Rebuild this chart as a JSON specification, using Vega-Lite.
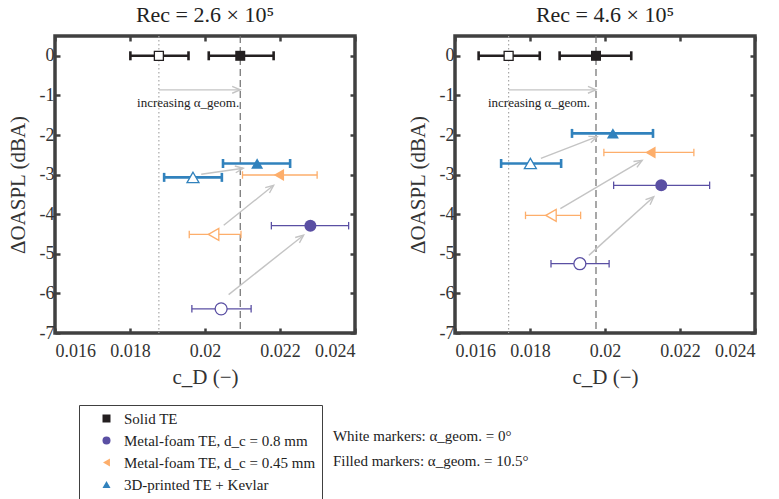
{
"$schema": "https://vega.github.io/schema/vega-lite/v6.json",
"background": "white",
"padding": {"left": 5, "top": 2, "right": 5, "bottom": 2},
"config": {
  "font": "Liberation Serif",
  "view": {"stroke": "#404040", "strokeWidth": 3.5},
  "axis": {"labelFont": "Liberation Serif", "titleFont": "Liberation Serif", "labelFontSize": 18, "titleFontSize": 21, "titleFontWeight": "normal", "labelColor": "#333333", "titleColor": "#333333", "tickColor": "#404040", "tickWidth": 2.5, "tickSize": -5, "domain": false, "grid": false},
  "title": {"font": "Liberation Serif", "fontSize": 22, "fontWeight": "normal", "color": "#222222", "offset": 8},
  "legend": {"labelFont": "Liberation Serif", "labelFontSize": 15, "labelColor": "#222222", "labelLimit": 400}
},
"datasets": {
  "pts": [
    {"panel": "L", "k": "S", "series": "Solid TE", "alpha": 0, "cd": 0.01877, "lo": 0.01801, "hi": 0.01956, "db": 0},
    {"panel": "L", "k": "S", "series": "Solid TE", "alpha": 10.5, "cd": 0.02094, "lo": 0.0201, "hi": 0.02183, "db": 0},
    {"panel": "L", "k": "K", "series": "3D-printed TE + Kevlar", "alpha": 10.5, "cd": 0.02139, "lo": 0.02048, "hi": 0.02227, "db": -2.72},
    {"panel": "L", "k": "K", "series": "3D-printed TE + Kevlar", "alpha": 0, "cd": 0.01968, "lo": 0.01891, "hi": 0.02045, "db": -3.07},
    {"panel": "L", "k": "M45", "series": "Metal-foam TE, d_c = 0.45 mm", "alpha": 10.5, "cd": 0.02197, "lo": 0.021, "hi": 0.02299, "db": -3.01},
    {"panel": "L", "k": "M45", "series": "Metal-foam TE, d_c = 0.45 mm", "alpha": 0, "cd": 0.02023, "lo": 0.01958, "hi": 0.02096, "db": -4.51},
    {"panel": "L", "k": "M8", "series": "Metal-foam TE, d_c = 0.8 mm", "alpha": 10.5, "cd": 0.02281, "lo": 0.02177, "hi": 0.02383, "db": -4.29},
    {"panel": "L", "k": "M8", "series": "Metal-foam TE, d_c = 0.8 mm", "alpha": 0, "cd": 0.02043, "lo": 0.01965, "hi": 0.02123, "db": -6.39},
    {"panel": "R", "k": "S", "series": "Solid TE", "alpha": 0, "cd": 0.01743, "lo": 0.01663, "hi": 0.01826, "db": 0},
    {"panel": "R", "k": "S", "series": "Solid TE", "alpha": 10.5, "cd": 0.01976, "lo": 0.01879, "hi": 0.0207, "db": 0},
    {"panel": "R", "k": "K", "series": "3D-printed TE + Kevlar", "alpha": 10.5, "cd": 0.02021, "lo": 0.01912, "hi": 0.02128, "db": -1.96},
    {"panel": "R", "k": "K", "series": "3D-printed TE + Kevlar", "alpha": 0, "cd": 0.01801, "lo": 0.01723, "hi": 0.01883, "db": -2.72},
    {"panel": "R", "k": "M45", "series": "Metal-foam TE, d_c = 0.45 mm", "alpha": 10.5, "cd": 0.02121, "lo": 0.01997, "hi": 0.02237, "db": -2.44},
    {"panel": "R", "k": "M45", "series": "Metal-foam TE, d_c = 0.45 mm", "alpha": 0, "cd": 0.01856, "lo": 0.01788, "hi": 0.01935, "db": -4.03},
    {"panel": "R", "k": "M8", "series": "Metal-foam TE, d_c = 0.8 mm", "alpha": 10.5, "cd": 0.0215, "lo": 0.02023, "hi": 0.02279, "db": -3.27},
    {"panel": "R", "k": "M8", "series": "Metal-foam TE, d_c = 0.8 mm", "alpha": 0, "cd": 0.01933, "lo": 0.01856, "hi": 0.02011, "db": -5.25}
  ],
  "arrows": [
    {"panel": "L", "ax": 0.01877, "ay": -0.86, "bx": 0.02094, "by": -0.86},
    {"panel": "L", "ax": 0.0199, "ay": -2.99, "bx": 0.02102, "by": -2.84},
    {"panel": "L", "ax": 0.0205, "ay": -4.28, "bx": 0.02183, "by": -3.27},
    {"panel": "L", "ax": 0.02063, "ay": -6.03, "bx": 0.02263, "by": -4.53},
    {"panel": "R", "ax": 0.01743, "ay": -0.86, "bx": 0.01976, "by": -0.86},
    {"panel": "R", "ax": 0.01829, "ay": -2.59, "bx": 0.01979, "by": -2.04},
    {"panel": "R", "ax": 0.01881, "ay": -3.86, "bx": 0.02099, "by": -2.64},
    {"panel": "R", "ax": 0.01957, "ay": -5.04, "bx": 0.0213, "by": -3.56}
  ]
},
"bounds": "flush",
"spacing": 100,
"resolve": {"legend": {"color": "independent", "shape": "independent"}},
"hconcat": [
  {
    "width": 300, "height": 297,
    "title": "Rec = 2.6 × 10⁵",
    "resolve": {"axis": {"x": "independent", "y": "independent"}},
    "layer": [
      {
        "data": {"name": "pts"},
        "transform": [{"filter": "datum.panel=='L' && datum.k=='S' && datum.alpha==0"}],
        "mark": {"type": "rule", "strokeDash": [1.5, 2.5], "color": "#a8a8a8", "strokeWidth": 1.2},
        "encoding": {
          "x": {"field": "cd", "type": "quantitative", "scale": {"domain": [0.016, 0.024], "nice": false, "zero": false}, "axis": null}
        }
      },
      {
        "data": {"name": "pts"},
        "transform": [{"filter": "datum.panel=='L' && datum.k=='S' && datum.alpha>0"}],
        "mark": {"type": "rule", "strokeDash": [7, 4], "color": "#6e6e6e", "strokeWidth": 1.2},
        "encoding": {
          "x": {"field": "cd", "type": "quantitative", "axis": null}
        }
      },
      {
        "data": {"name": "arrows"},
        "transform": [{"filter": "datum.panel=='L'"}],
        "mark": {"type": "rule", "color": "#c4c4c4", "strokeWidth": 1.4},
        "encoding": {
          "x": {"field": "ax", "type": "quantitative", "axis": null},
          "x2": {"field": "bx"},
          "y": {"field": "ay", "type": "quantitative", "scale": {"domain": [-7, 0.5], "nice": false, "zero": false}, "axis": null},
          "y2": {"field": "by"}
        }
      },
      {
        "data": {"name": "arrows"},
        "transform": [{"filter": "datum.panel=='L'"}, {"calculate": "atan2(-(datum.by-datum.ay)*39.6, (datum.bx-datum.ax)*37500)*180/PI", "as": "ang"}],
        "mark": {"type": "point", "shape": "M -1 -0.42 L 0 0 L -1 0.42", "filled": false, "color": "#c4c4c4", "strokeWidth": 1.4, "size": 260, "opacity": 1},
        "encoding": {
          "x": {"field": "bx", "type": "quantitative", "axis": null},
          "y": {"field": "by", "type": "quantitative", "axis": null},
          "angle": {"field": "ang", "type": "quantitative", "scale": null}
        }
      },
      {
        "data": {"name": "pts"},
        "transform": [{"filter": "datum.panel=='L'"}],
        "mark": {"type": "rule"},
        "encoding": {
          "x": {"field": "lo", "type": "quantitative", "axis": {"title": "c_D (−)", "values": [0.016, 0.018, 0.02, 0.022, 0.024], "format": "~f", "labelPadding": 14, "titlePadding": 6}},
          "x2": {"field": "hi"},
          "y": {"field": "db", "type": "quantitative", "axis": {"title": "ΔOASPL (dBA)", "values": [-7, -6, -5, -4, -3, -2, -1, 0], "labelExpr": "datum.value < 0 ? '-' + abs(datum.value) : '' + datum.value", "labelPadding": 6, "titlePadding": 11}},
          "color": {"condition": [{"test": "datum.k=='S'", "value": "#231f20"}, {"test": "datum.k=='M8'", "value": "#5a4fa3"}, {"test": "datum.k=='M45'", "value": "#fdae6b"}], "value": "#3182bd"},
          "strokeWidth": {"condition": {"test": "datum.k=='S' || datum.k=='K'", "value": 2.6}, "value": 1.3}
        }
      },
      {
        "data": {"name": "pts"},
        "transform": [{"filter": "datum.panel=='L'"}],
        "mark": {"type": "point", "shape": "M 0 -1 L 0 1", "filled": false, "opacity": 1, "strokeCap": "butt"},
        "encoding": {
          "x": {"field": "lo", "type": "quantitative", "axis": {"orient": "top", "title": null, "labels": false, "values": [0.016, 0.018, 0.02, 0.022, 0.024]}},
          "y": {"field": "db", "type": "quantitative", "axis": {"orient": "right", "title": null, "labels": false, "values": [-7, -6, -5, -4, -3, -2, -1, 0]}},
          "color": {"condition": [{"test": "datum.k=='S'", "value": "#231f20"}, {"test": "datum.k=='M8'", "value": "#5a4fa3"}, {"test": "datum.k=='M45'", "value": "#fdae6b"}], "value": "#3182bd"},
          "strokeWidth": {"condition": {"test": "datum.k=='S' || datum.k=='K'", "value": 2.6}, "value": 1.3},
          "size": {"condition": {"test": "datum.k=='S' || datum.k=='K'", "value": 81}, "value": 56}
        }
      },
      {
        "data": {"name": "pts"},
        "transform": [{"filter": "datum.panel=='L'"}],
        "mark": {"type": "point", "shape": "M 0 -1 L 0 1", "filled": false, "opacity": 1, "strokeCap": "butt"},
        "encoding": {
          "x": {"field": "hi", "type": "quantitative", "axis": null},
          "y": {"field": "db", "type": "quantitative", "axis": null},
          "color": {"condition": [{"test": "datum.k=='S'", "value": "#231f20"}, {"test": "datum.k=='M8'", "value": "#5a4fa3"}, {"test": "datum.k=='M45'", "value": "#fdae6b"}], "value": "#3182bd"},
          "strokeWidth": {"condition": {"test": "datum.k=='S' || datum.k=='K'", "value": 2.6}, "value": 1.3},
          "size": {"condition": {"test": "datum.k=='S' || datum.k=='K'", "value": 81}, "value": 56}
        }
      },
      {
        "data": {"name": "pts"},
        "transform": [{"filter": "datum.panel=='L' && datum.alpha > 0"}],
        "mark": {"type": "point", "filled": true, "opacity": 1},
        "encoding": {
          "x": {"field": "cd", "type": "quantitative", "axis": null},
          "y": {"field": "db", "type": "quantitative", "axis": null},
          "color": {"field": "series", "type": "nominal", "scale": {"domain": ["Solid TE", "Metal-foam TE, d_c = 0.8 mm", "Metal-foam TE, d_c = 0.45 mm", "3D-printed TE + Kevlar"], "range": ["#231f20", "#5a4fa3", "#fdae6b", "#3182bd"]}, "legend": {"title": null, "orient": "none", "legendX": 24, "legendY": 369, "strokeColor": "#404040", "padding": 6, "symbolOffset": 14, "symbolSize": 64, "rowPadding": 6, "labelOffset": 10, "symbolStrokeWidth": 0, "encode": {"legend": {"update": {"strokeWidth": {"value": 2}}}}}},
          "shape": {"field": "series", "type": "nominal", "scale": {"domain": ["Solid TE", "Metal-foam TE, d_c = 0.8 mm", "Metal-foam TE, d_c = 0.45 mm", "3D-printed TE + Kevlar"], "range": ["square", "circle", "triangle-left", "triangle-up"]}, "legend": {"title": null, "orient": "none", "legendX": 24, "legendY": 369, "strokeColor": "#404040", "padding": 6, "symbolOffset": 14, "symbolSize": 64, "rowPadding": 6, "labelOffset": 10, "symbolStrokeWidth": 0, "encode": {"legend": {"update": {"strokeWidth": {"value": 2}}}}}},
          "size": {"condition": {"test": "datum.k=='S'", "value": 100}, "value": 144}
        }
      },
      {
        "data": {"name": "pts"},
        "transform": [{"filter": "datum.panel=='L' && datum.alpha == 0"}],
        "mark": {"type": "point", "filled": false, "fill": "white", "fillOpacity": 1, "opacity": 1, "strokeWidth": 1.3},
        "encoding": {
          "x": {"field": "cd", "type": "quantitative", "axis": null},
          "y": {"field": "db", "type": "quantitative", "axis": null},
          "color": {"condition": [{"test": "datum.k=='S'", "value": "#231f20"}, {"test": "datum.k=='M8'", "value": "#5a4fa3"}, {"test": "datum.k=='M45'", "value": "#fdae6b"}], "value": "#3182bd"},
          "shape": {"condition": [{"test": "datum.k=='S'", "value": "square"}, {"test": "datum.k=='M8'", "value": "circle"}, {"test": "datum.k=='M45'", "value": "triangle-left"}], "value": "triangle-up"},
          "size": {"condition": {"test": "datum.k=='S'", "value": 81}, "value": 144}
        }
      },
      {
        "data": {"values": [{"note": "increasing α_geom."}]},
        "mark": {"type": "text", "fontSize": 13, "color": "#222222", "align": "center", "baseline": "middle"},
        "encoding": {
          "x": {"datum": 0.01955, "type": "quantitative", "axis": null},
          "y": {"datum": -1.19, "type": "quantitative", "axis": null},
          "text": {"field": "note", "type": "nominal"}
        }
      },
      {
        "data": {"values": [{"note": "White markers: α_geom. = 0°", "line": -9.59}, {"note": "Filled markers: α_geom. = 10.5°", "line": -10.23}]},
        "mark": {"type": "text", "fontSize": 15, "color": "#222222", "align": "left", "baseline": "middle", "clip": false},
        "encoding": {
          "x": {"datum": 0.02341, "type": "quantitative", "axis": null},
          "y": {"field": "line", "type": "quantitative", "axis": null},
          "text": {"field": "note", "type": "nominal"}
        }
      }
    ]
  },
  {
    "width": 300, "height": 297,
    "title": "Rec = 4.6 × 10⁵",
    "resolve": {"axis": {"x": "independent", "y": "independent"}},
    "layer": [
      {
        "data": {"name": "pts"},
        "transform": [{"filter": "datum.panel=='R' && datum.k=='S' && datum.alpha==0"}],
        "mark": {"type": "rule", "strokeDash": [1.5, 2.5], "color": "#a8a8a8", "strokeWidth": 1.2},
        "encoding": {
          "x": {"field": "cd", "type": "quantitative", "scale": {"domain": [0.016, 0.024], "nice": false, "zero": false}, "axis": null}
        }
      },
      {
        "data": {"name": "pts"},
        "transform": [{"filter": "datum.panel=='R' && datum.k=='S' && datum.alpha>0"}],
        "mark": {"type": "rule", "strokeDash": [7, 4], "color": "#6e6e6e", "strokeWidth": 1.2},
        "encoding": {
          "x": {"field": "cd", "type": "quantitative", "axis": null}
        }
      },
      {
        "data": {"name": "arrows"},
        "transform": [{"filter": "datum.panel=='R'"}],
        "mark": {"type": "rule", "color": "#c4c4c4", "strokeWidth": 1.4},
        "encoding": {
          "x": {"field": "ax", "type": "quantitative", "axis": null},
          "x2": {"field": "bx"},
          "y": {"field": "ay", "type": "quantitative", "scale": {"domain": [-7, 0.5], "nice": false, "zero": false}, "axis": null},
          "y2": {"field": "by"}
        }
      },
      {
        "data": {"name": "arrows"},
        "transform": [{"filter": "datum.panel=='R'"}, {"calculate": "atan2(-(datum.by-datum.ay)*39.6, (datum.bx-datum.ax)*37500)*180/PI", "as": "ang"}],
        "mark": {"type": "point", "shape": "M -1 -0.42 L 0 0 L -1 0.42", "filled": false, "color": "#c4c4c4", "strokeWidth": 1.4, "size": 260, "opacity": 1},
        "encoding": {
          "x": {"field": "bx", "type": "quantitative", "axis": null},
          "y": {"field": "by", "type": "quantitative", "axis": null},
          "angle": {"field": "ang", "type": "quantitative", "scale": null}
        }
      },
      {
        "data": {"name": "pts"},
        "transform": [{"filter": "datum.panel=='R'"}],
        "mark": {"type": "rule"},
        "encoding": {
          "x": {"field": "lo", "type": "quantitative", "axis": {"title": "c_D (−)", "values": [0.016, 0.018, 0.02, 0.022, 0.024], "format": "~f", "labelPadding": 14, "titlePadding": 6}},
          "x2": {"field": "hi"},
          "y": {"field": "db", "type": "quantitative", "axis": {"title": "ΔOASPL (dBA)", "values": [-7, -6, -5, -4, -3, -2, -1, 0], "labelExpr": "datum.value < 0 ? '-' + abs(datum.value) : '' + datum.value", "labelPadding": 6, "titlePadding": 11}},
          "color": {"condition": [{"test": "datum.k=='S'", "value": "#231f20"}, {"test": "datum.k=='M8'", "value": "#5a4fa3"}, {"test": "datum.k=='M45'", "value": "#fdae6b"}], "value": "#3182bd"},
          "strokeWidth": {"condition": {"test": "datum.k=='S' || datum.k=='K'", "value": 2.6}, "value": 1.3}
        }
      },
      {
        "data": {"name": "pts"},
        "transform": [{"filter": "datum.panel=='R'"}],
        "mark": {"type": "point", "shape": "M 0 -1 L 0 1", "filled": false, "opacity": 1, "strokeCap": "butt"},
        "encoding": {
          "x": {"field": "lo", "type": "quantitative", "axis": {"orient": "top", "title": null, "labels": false, "values": [0.016, 0.018, 0.02, 0.022, 0.024]}},
          "y": {"field": "db", "type": "quantitative", "axis": {"orient": "right", "title": null, "labels": false, "values": [-7, -6, -5, -4, -3, -2, -1, 0]}},
          "color": {"condition": [{"test": "datum.k=='S'", "value": "#231f20"}, {"test": "datum.k=='M8'", "value": "#5a4fa3"}, {"test": "datum.k=='M45'", "value": "#fdae6b"}], "value": "#3182bd"},
          "strokeWidth": {"condition": {"test": "datum.k=='S' || datum.k=='K'", "value": 2.6}, "value": 1.3},
          "size": {"condition": {"test": "datum.k=='S' || datum.k=='K'", "value": 81}, "value": 56}
        }
      },
      {
        "data": {"name": "pts"},
        "transform": [{"filter": "datum.panel=='R'"}],
        "mark": {"type": "point", "shape": "M 0 -1 L 0 1", "filled": false, "opacity": 1, "strokeCap": "butt"},
        "encoding": {
          "x": {"field": "hi", "type": "quantitative", "axis": null},
          "y": {"field": "db", "type": "quantitative", "axis": null},
          "color": {"condition": [{"test": "datum.k=='S'", "value": "#231f20"}, {"test": "datum.k=='M8'", "value": "#5a4fa3"}, {"test": "datum.k=='M45'", "value": "#fdae6b"}], "value": "#3182bd"},
          "strokeWidth": {"condition": {"test": "datum.k=='S' || datum.k=='K'", "value": 2.6}, "value": 1.3},
          "size": {"condition": {"test": "datum.k=='S' || datum.k=='K'", "value": 81}, "value": 56}
        }
      },
      {
        "data": {"name": "pts"},
        "transform": [{"filter": "datum.panel=='R' && datum.alpha > 0"}],
        "mark": {"type": "point", "filled": true, "opacity": 1},
        "encoding": {
          "x": {"field": "cd", "type": "quantitative", "axis": null},
          "y": {"field": "db", "type": "quantitative", "axis": null},
          "color": {"condition": [{"test": "datum.k=='S'", "value": "#231f20"}, {"test": "datum.k=='M8'", "value": "#5a4fa3"}, {"test": "datum.k=='M45'", "value": "#fdae6b"}], "value": "#3182bd"},
          "shape": {"condition": [{"test": "datum.k=='S'", "value": "square"}, {"test": "datum.k=='M8'", "value": "circle"}, {"test": "datum.k=='M45'", "value": "triangle-left"}], "value": "triangle-up"},
          "size": {"condition": {"test": "datum.k=='S'", "value": 100}, "value": 144}
        }
      },
      {
        "data": {"name": "pts"},
        "transform": [{"filter": "datum.panel=='R' && datum.alpha == 0"}],
        "mark": {"type": "point", "filled": false, "fill": "white", "fillOpacity": 1, "opacity": 1, "strokeWidth": 1.3},
        "encoding": {
          "x": {"field": "cd", "type": "quantitative", "axis": null},
          "y": {"field": "db", "type": "quantitative", "axis": null},
          "color": {"condition": [{"test": "datum.k=='S'", "value": "#231f20"}, {"test": "datum.k=='M8'", "value": "#5a4fa3"}, {"test": "datum.k=='M45'", "value": "#fdae6b"}], "value": "#3182bd"},
          "shape": {"condition": [{"test": "datum.k=='S'", "value": "square"}, {"test": "datum.k=='M8'", "value": "circle"}, {"test": "datum.k=='M45'", "value": "triangle-left"}], "value": "triangle-up"},
          "size": {"condition": {"test": "datum.k=='S'", "value": 81}, "value": 144}
        }
      },
      {
        "data": {"values": [{"note": "increasing α_geom."}]},
        "mark": {"type": "text", "fontSize": 13, "color": "#222222", "align": "center", "baseline": "middle"},
        "encoding": {
          "x": {"datum": 0.01824, "type": "quantitative", "axis": null},
          "y": {"datum": -1.19, "type": "quantitative", "axis": null},
          "text": {"field": "note", "type": "nominal"}
        }
      }
    ]
  }
]
}
